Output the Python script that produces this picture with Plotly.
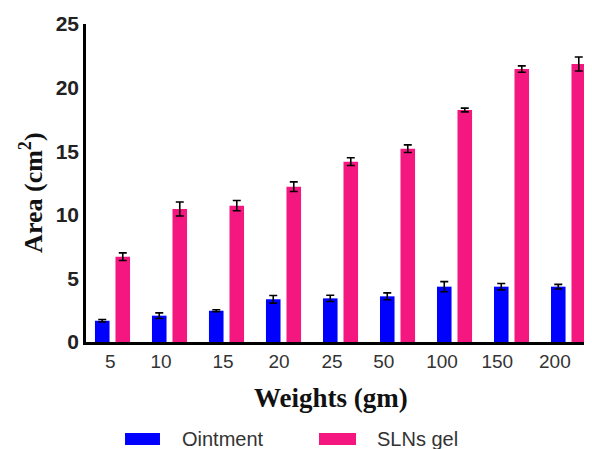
import plotly.graph_objects as go

# ---- data ----
weights = ["5", "10", "15", "20", "25", "50", "100", "150", "200"]
ointment = [1.67, 2.07, 2.46, 3.36, 3.43, 3.59, 4.35, 4.35, 4.35]
ointment_err = [0.1, 0.22, 0.08, 0.3, 0.25, 0.27, 0.4, 0.25, 0.18]
sln_gel = [6.71, 10.46, 10.72, 12.21, 14.18, 15.2, 18.24, 21.46, 21.86]
sln_gel_err = [0.3, 0.55, 0.4, 0.38, 0.3, 0.3, 0.15, 0.25, 0.55]

BLUE = "#0000FF"
PINK = "#F4177F"
SERIF = "Liberation Serif, Times New Roman"
SANS = "Liberation Sans, Arial"

xpos = list(range(len(weights)))

fig = go.Figure()
fig.add_trace(go.Bar(
    x=xpos, y=ointment, name="Ointment", marker=dict(color=BLUE, line=dict(width=0)),
    error_y=dict(type="data", array=ointment_err, color="black", thickness=1.6, width=4),
    showlegend=False,
))
fig.add_trace(go.Bar(
    x=xpos, y=sln_gel, name="SLNs gel", marker=dict(color=PINK, line=dict(width=0)),
    error_y=dict(type="data", array=sln_gel_err, color="black", thickness=1.6, width=4),
    showlegend=False,
))

# tick label offsets as drawn in the reference
tick_shift = [-0.04, -0.15, -0.06, -0.08, -0.15, -0.24, -0.22, -0.25, -0.24]
tickvals = [i + s for i, s in zip(xpos, tick_shift)]

# the page body has an 8px default margin, so the figure is drawn 8px in from the corner
fig.update_layout(
    width=584, height=441,
    margin=dict(l=78, r=0, t=16, b=107, autoexpand=False),
    paper_bgcolor="white", plot_bgcolor="white",
    barmode="group", bargap=0.28, bargroupgap=0.29,
    showlegend=False,
    font=dict(family=SANS, color="#222"),
    xaxis=dict(
        range=[-0.465, 8.412], tickmode="array", tickvals=tickvals, ticktext=weights,
        showline=True, linecolor="black", linewidth=3, showgrid=False, zeroline=False,
        automargin=False,
        ticks="", tickfont=dict(size=19, color="#333", family=SANS),
    ),
    yaxis=dict(
        range=[0, 25], tickvals=[0, 5, 10, 15, 20, 25], ticktext=["<b>%d</b>" % v for v in [0, 5, 10, 15, 20, 25]],
        showline=True, linecolor="black", linewidth=2.6, showgrid=False, zeroline=False,
        automargin=False,
        ticks="", tickfont=dict(size=21, color="#222", family=SANS),
    ),
)

# axis titles, placed as in the reference
fig.add_annotation(xref="paper", yref="paper", x=0.484, y=-0.176, text="<b>Weights (gm)</b>",
                   showarrow=False, xanchor="center", yanchor="middle",
                   font=dict(family=SERIF, size=27, color="#111"))
fig.add_annotation(xref="paper", yref="paper", x=-0.108, y=0.47, text="<b>Area (cm<sup>2</sup>)</b>",
                   showarrow=False, xanchor="center", yanchor="middle", textangle=-90,
                   font=dict(family=SERIF, size=26, color="#111"))

# manual legend (wide rectangular keys as in the reference)
legend_items = [("Ointment", BLUE, 0.0771, 0.1462, 0.1858),
                ("SLNs gel", PINK, 0.4605, 0.5336, 0.5711)]
for label, col, x0, x1, xt in legend_items:
    fig.add_shape(type="rect", xref="paper", yref="paper", x0=x0, x1=x1,
                  y0=-0.3239, y1=-0.2862, fillcolor=col, line=dict(width=0))
    fig.add_annotation(xref="paper", yref="paper", x=xt, y=-0.305, text=label,
                       showarrow=False, xanchor="left", yanchor="middle",
                       font=dict(size=20, color="#333", family=SANS))

fig.write_html("out.html")
